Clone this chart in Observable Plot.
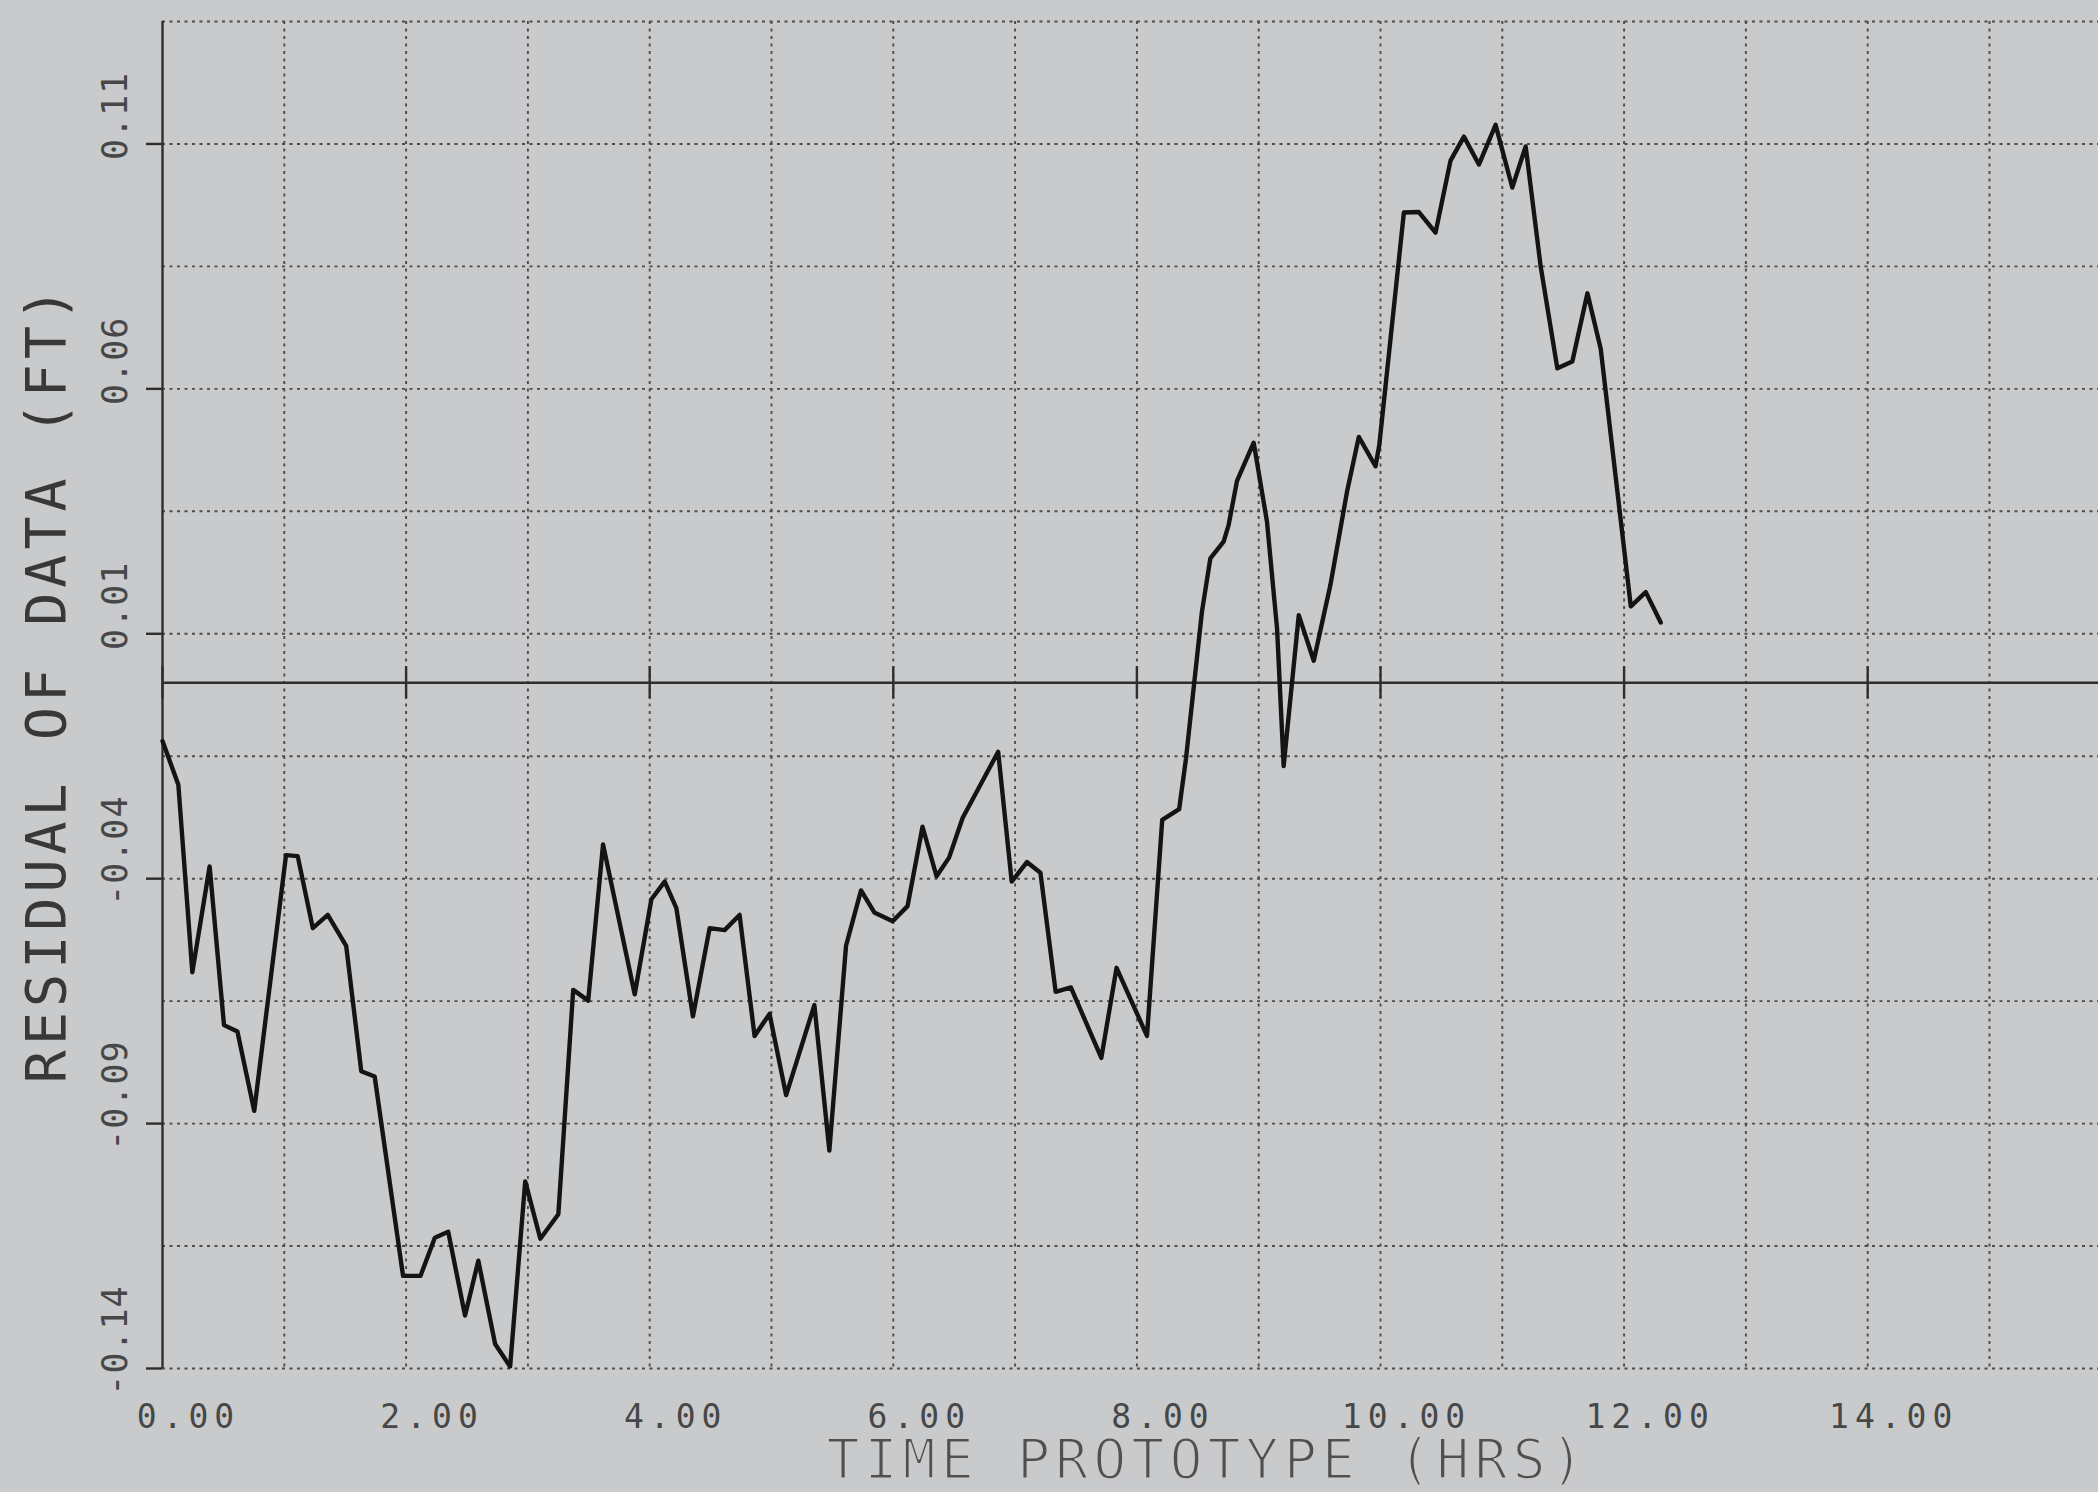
<!DOCTYPE html>
<html>
<head>
<meta charset="utf-8">
<script src="https://cdn.jsdelivr.net/npm/d3@7"></script>
<script src="https://cdn.jsdelivr.net/npm/@observablehq/plot@0.6"></script>
<style>
  html, body { margin: 0; padding: 0; background: #c9cacc; }
  #chart svg { display: block; }
</style>
</head>
<body>
<div id="chart"></div>
<script>
// Time (hours) of each plotted vertex
const timeHrs = [0, 0.13, 0.245, 0.387, 0.505, 0.615, 0.753, 1.014, 1.11, 1.234,
  1.357, 1.508, 1.632, 1.742, 1.975, 2.118, 2.236, 2.346, 2.484, 2.593,
  2.731, 2.854, 2.978, 3.102, 3.25, 3.372, 3.495, 3.617, 3.877, 4.014,
  4.123, 4.219, 4.355, 4.492, 4.615, 4.738, 4.861, 4.984, 5.12, 5.352,
  5.475, 5.612, 5.735, 5.844, 5.995, 6.117, 6.24, 6.355, 6.458, 6.569,
  6.861, 6.972, 7.097, 7.208, 7.333, 7.458, 7.708, 7.833, 8.083, 8.208,
  8.347, 8.403, 8.534, 8.603, 8.712, 8.753, 8.822, 8.959, 9.068, 9.151,
  9.205, 9.329, 9.452, 9.589, 9.726, 9.822, 9.959, 9.99, 10.192, 10.315,
  10.452, 10.575, 10.685, 10.808, 10.945, 11.082, 11.192, 11.315, 11.452, 11.575,
  11.699, 11.808, 12.055, 12.178, 12.301];
// Residual of data (ft)
const residualFt = [-0.0119, -0.0208, -0.0591, -0.0375, -0.0699, -0.0712, -0.0874, -0.0352, -0.0354, -0.0501,
  -0.0474, -0.0537, -0.0793, -0.0804, -0.1211, -0.1211, -0.1133, -0.1121, -0.1292, -0.118,
  -0.135, -0.1396, -0.1018, -0.1135, -0.1085, -0.0627, -0.0649, -0.033, -0.0636, -0.0442,
  -0.0406, -0.046, -0.0681, -0.0501, -0.0505, -0.0474, -0.0721, -0.0676, -0.0842, -0.0658,
  -0.0955, -0.0537, -0.0424, -0.0469, -0.0487, -0.0456, -0.0294, -0.0395, -0.0357, -0.0276,
  -0.0141, -0.0406, -0.0366, -0.0388, -0.0631, -0.0622, -0.0766, -0.0582, -0.0721, -0.028,
  -0.0258, -0.0155, 0.0145, 0.0254, 0.0288, 0.0322, 0.0412, 0.049, 0.0329, 0.011,
  -0.017, 0.0138, 0.0045, 0.020, 0.0391, 0.0502, 0.0442, 0.0485, 0.096, 0.0961,
  0.0919, 0.1066, 0.1115, 0.1058, 0.1139, 0.1011, 0.1095, 0.085, 0.0642, 0.0656,
  0.0795, 0.0682, 0.0156, 0.0185, 0.0123];

const xTickValues = [0, 2, 4, 6, 8, 10, 12, 14];
const xTickLabels = ["0.00", "2.00", "4.00", "6.00", "8.00", "10.00", "12.00", "14.00"];
const yTickValues = [0.11, 0.06, 0.01, -0.04, -0.09, -0.14];
const yTickLabels = ["0.11", "0.06", "0.01", "-0.04", "-0.09", "-0.14"];
const xGridValues = [1, 2, 3, 4, 5, 6, 7, 8, 9, 10, 11, 12, 13, 14, 15];
const yGridValues = [-0.14, -0.115, -0.09, -0.065, -0.04, -0.015, 0.01, 0.035, 0.06, 0.085, 0.11, 0.135];
const xTitle = "TIME PROTOTYPE (HRS)";
const yTitle = "RESIDUAL OF DATA (FT)";

const data = timeHrs.map((t, i) => ({t, r: residualFt[i]}));

const BG = "#c9cacc";
const gridStyle = {stroke: "#4c4c4c", strokeWidth: 1.9, strokeDasharray: "3,4.5"};

const chart = Plot.plot({
  width: 2098,
  height: 1492,
  marginLeft: 162,
  marginRight: 0,
  marginTop: 21,
  marginBottom: 124,
  x: {domain: [0, 15.895], axis: null},
  y: {domain: [-0.14, 0.135], axis: null},
  style: {background: "transparent", fontFamily: "'DejaVu Sans Mono', monospace"},
  marks: [
    Plot.ruleY(yGridValues, {y: d => d, ...gridStyle}),
    Plot.ruleX(xGridValues, {x: d => d, ...gridStyle}),
    Plot.ruleX([0], {x: d => d, stroke: "#2e2e2e", strokeWidth: 2.4}),
    Plot.ruleY([0], {y: d => d, stroke: "#2e2e2e", strokeWidth: 2.6}),
    Plot.ruleY(yTickValues, {y: d => d, x1: 0, x2: 0, insetLeft: -16, stroke: "#2e2e2e", strokeWidth: 2.4}),
    Plot.ruleX(xTickValues, {x: d => d, y1: 0, y2: 0, insetTop: -16, insetBottom: -16, stroke: "#2e2e2e", strokeWidth: 2.4}),
    Plot.line(data, {x: "t", y: "r", stroke: "#141414", strokeWidth: 4.4}),
    Plot.text(xTickValues, {x: d => d, text: (d, i) => xTickLabels[i], frameAnchor: "bottom",
      textAnchor: "middle", lineAnchor: "middle",
      dx: 26, dy: 49, fontSize: 33, fill: "#474747"}),
    Plot.text(yTickValues, {y: d => d, text: (d, i) => yTickLabels[i], frameAnchor: "left",
      textAnchor: "middle", lineAnchor: "middle",
      dx: -47, dy: -28, rotate: -90, fontSize: 35, fill: "#474747"}),
    Plot.text([xTitle], {text: d => d, frameAnchor: "bottom", textAnchor: "middle", lineAnchor: "middle",
      dx: 77, dy: 92, fontSize: 55,
      fill: "#505050", stroke: BG, strokeWidth: 2.2, paintOrder: "normal"}),
    Plot.text([yTitle], {text: d => d, frameAnchor: "left", textAnchor: "middle", lineAnchor: "middle",
      dx: -115, dy: -12, rotate: -90, fontSize: 55,
      fill: "#383838"})
  ]
});

// letter spacing per text size (plotter lettering is widely spaced)
const spacing = {"33": "6px", "35": "1px", "55": "5px"};
chart.querySelectorAll("g[font-size]").forEach(g => {
  const fs = g.getAttribute("font-size");
  if (spacing[fs]) g.style.letterSpacing = spacing[fs];
});

document.getElementById("chart").appendChild(chart);
</script>
</body>
</html>
